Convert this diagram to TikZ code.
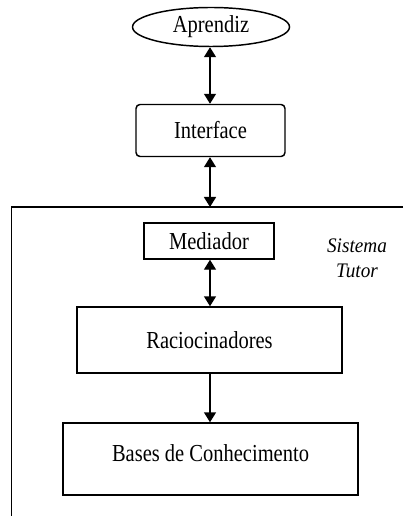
\documentclass[tikz,border=0pt]{standalone}
\usepackage{fontspec}
\setmainfont[FakeStretch=0.84]{Liberation Serif}
\newfontfamily\labelfont[FakeStretch=0.93]{Liberation Serif}
\usetikzlibrary{arrows.meta,shapes.geometric}
\begin{document}
\begin{tikzpicture}[x=0.75pt,y=-0.75pt,
  line width=1.1pt,
  txt/.style={font=\fontsize{18.3}{21}\selectfont},
  blockbox/.style={draw, rectangle, txt, inner sep=0pt},
  link/.style={{Triangle[length=7.5pt,width=9pt]}-{Triangle[length=7.5pt,width=9pt]}},
  flow/.style={-{Triangle[length=7.5pt,width=9pt]}},
  tag/.style={font=\labelfont\itshape\fontsize{15.5}{18}\selectfont}]
\useasboundingbox (0,0) rectangle (403,516);
\fill[white] (0,0) rectangle (403,516);

% learner and interface
\node[draw, ellipse, txt, minimum width=157*0.75pt, minimum height=39*0.75pt, inner sep=0pt] (aprendiz) at (211,27) {Aprendiz};
\node[blockbox, rounded corners=3pt, minimum width=149*0.75pt, minimum height=52*0.75pt] (interface) at (210.5,130.5) {Interface};

% tutoring system frame (open to the right and bottom)
\coordinate (frameTL) at (11.5,207);
\coordinate (frameTR) at (403,207);
\coordinate (frameBL) at (11.5,516);
\coordinate (frameIn) at (210,207);
\draw (frameTR) -- (frameTL) -- (frameBL);

\node[blockbox, minimum width=130*0.75pt, minimum height=36*0.75pt] (mediador) at (209,241) {Mediador};
\node[tag] (sistema) at (357,246) {Sistema};
\node[tag] (tutor) at (357,271) {Tutor};

\node[blockbox, minimum width=265*0.75pt, minimum height=66*0.75pt] (racioc) at (209.5,340) {Raciocinadores};
\node[blockbox, minimum width=295*0.75pt, minimum height=72*0.75pt] (bases) at (210.5,459) {};
\node[txt] (basestxt) at (210.5,453) {Bases de Conhecimento};

% connectors
\draw[link] (aprendiz.south -| frameIn) -- (interface.north -| frameIn);
\draw[link] (interface.south -| frameIn) -- (frameIn);
\draw[link] (mediador.south -| frameIn) -- (racioc.north -| frameIn);
\draw[flow] (racioc.south -| frameIn) -- (bases.north -| frameIn);
\end{tikzpicture}
\end{document}
